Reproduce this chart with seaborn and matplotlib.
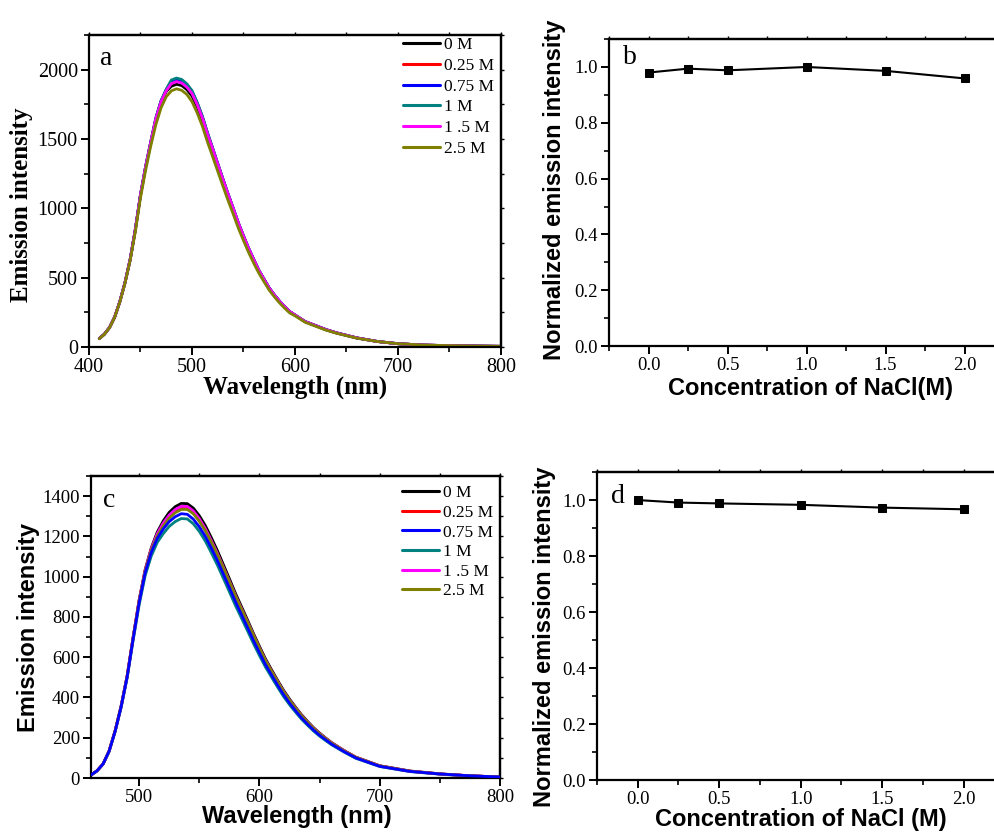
import numpy as np
import pandas as pd
import matplotlib
matplotlib.use("Agg")
from matplotlib import pyplot as plt
from matplotlib.ticker import MultipleLocator, FormatStrFormatter
import seaborn as sns

conc_labels = ["0 M", "0.25 M", "0.75 M", "1 M", "1 .5 M", "2.5 M"]
line_colors = ["#000000", "#ff0000", "#0000ff", "#008080", "#ff00ff", "#808000"]

# panel a spectra
wl_a = [410, 415, 420, 425, 430, 435, 440, 445, 450, 455, 460, 465, 470, 475, 480, 485, 490, 495,
        500, 505, 510, 515, 520, 525, 530, 535, 540, 545, 550, 555, 560, 565, 570, 575, 580, 585,
        590, 595, 600, 610, 620, 630, 640, 660, 680, 700, 725, 750, 775, 800]
a_0M = [61, 93, 141, 217, 328, 465, 631, 845, 1093, 1295, 1470, 1640, 1770, 1843, 1881, 1895, 1886, 1857,
        1810, 1735, 1640, 1525, 1418, 1310, 1200, 1094, 993, 889, 796, 708, 627, 550, 486, 424, 374, 329,
        290, 254, 230, 182, 154, 125, 102, 65, 40, 24, 14, 10, 7, 5]
a_025M = [61, 93, 141, 217, 328, 465, 631, 847, 1097, 1301, 1479, 1650, 1772, 1852, 1911, 1925, 1915, 1885,
          1838, 1757, 1660, 1542, 1432, 1321, 1211, 1103, 1001, 895, 801, 711, 630, 552, 488, 425, 375, 330,
          291, 255, 231, 183, 155, 126, 103, 66, 40, 24, 14, 10, 7, 5]
a_075M = [61, 93, 141, 217, 328, 465, 631, 847, 1097, 1301, 1479, 1652, 1775, 1855, 1919, 1933, 1923, 1892,
          1844, 1762, 1664, 1545, 1435, 1323, 1213, 1105, 1002, 896, 802, 712, 631, 553, 489, 426, 376, 331,
          291, 255, 231, 183, 155, 126, 103, 66, 40, 24, 14, 10, 7, 5]
a_1M = [61, 93, 141, 217, 328, 465, 631, 847, 1097, 1301, 1479, 1653, 1777, 1859, 1926, 1940, 1930, 1899,
        1850, 1766, 1667, 1547, 1437, 1325, 1214, 1106, 1003, 897, 803, 713, 631, 553, 489, 426, 376, 331,
        291, 255, 231, 183, 155, 126, 103, 66, 40, 24, 14, 10, 7, 5]
a_15M = [61, 93, 141, 217, 328, 465, 631, 846, 1095, 1299, 1476, 1648, 1769, 1848, 1900, 1914, 1904, 1875,
         1829, 1750, 1654, 1538, 1430, 1320, 1210, 1103, 1001, 895, 801, 712, 630, 552, 488, 425, 375, 330,
         291, 255, 231, 183, 155, 126, 103, 66, 40, 24, 14, 10, 7, 5]
a_25M = [60, 92, 140, 215, 325, 460, 625, 830, 1075, 1275, 1450, 1605, 1725, 1805, 1848, 1862, 1852, 1822,
         1770, 1690, 1595, 1480, 1375, 1268, 1162, 1058, 960, 858, 768, 682, 604, 532, 470, 410, 362, 318,
         280, 245, 225, 178, 150, 122, 100, 64, 40, 24, 14, 10, 7, 5]

# panel c spectra
wl_c = [460, 465, 470, 475, 480, 485, 490, 495, 500, 505, 510, 515, 520, 525, 530, 535, 540, 545, 550,
        555, 560, 565, 570, 575, 580, 585, 590, 595, 600, 605, 610, 615, 620, 625, 630, 635, 640, 645,
        650, 655, 660, 670, 680, 700, 725, 750, 775, 800]
c_0M = [15, 36, 70, 134, 234, 357, 507, 700, 885, 1036, 1142, 1221, 1277, 1320, 1348, 1364, 1363, 1341, 1303,
        1254, 1194, 1130, 1060, 990, 918, 852, 786, 718, 654, 592, 538, 486, 436, 392, 352, 314, 281, 250,
        223, 199, 176, 138, 104, 61, 35, 21, 11, 5]
c_025M = [15, 36, 70, 134, 234, 356, 505, 697, 880, 1030, 1133, 1206, 1257, 1297, 1324, 1340, 1339, 1317, 1279,
          1231, 1172, 1110, 1042, 973, 903, 838, 773, 706, 643, 582, 529, 478, 428, 385, 346, 308, 276, 246,
          219, 196, 173, 136, 103, 60, 34, 20, 11, 5]
c_075M = [15, 36, 70, 133, 232, 354, 502, 692, 872, 1020, 1120, 1190, 1237, 1274, 1298, 1313, 1310, 1286, 1248,
          1200, 1142, 1080, 1013, 945, 876, 812, 748, 683, 622, 563, 512, 462, 414, 372, 334, 298, 267, 238,
          212, 190, 168, 132, 100, 58, 33, 20, 11, 5]
c_1M = [15, 35, 69, 131, 229, 350, 496, 684, 860, 1005, 1102, 1170, 1214, 1250, 1274, 1289, 1287, 1263, 1225,
        1177, 1119, 1058, 992, 925, 857, 795, 732, 668, 608, 551, 501, 452, 405, 364, 327, 292, 262, 233,
        208, 186, 165, 130, 98, 57, 32, 19, 10, 5]
c_15M = [15, 36, 70, 134, 234, 356, 506, 698, 882, 1032, 1137, 1213, 1266, 1306, 1334, 1350, 1349, 1327, 1288,
         1239, 1179, 1116, 1047, 978, 907, 842, 777, 710, 646, 585, 531, 480, 430, 387, 348, 310, 277, 247,
         220, 197, 174, 137, 103, 60, 34, 20, 11, 5]
c_25M = [15, 36, 70, 134, 234, 356, 505, 696, 879, 1028, 1130, 1202, 1252, 1291, 1318, 1334, 1334, 1313, 1276,
         1229, 1171, 1110, 1043, 975, 905, 840, 775, 709, 645, 584, 530, 479, 429, 386, 347, 309, 276, 246,
         219, 196, 173, 136, 103, 60, 34, 20, 11, 5]

# panels b and d
nacl = [0.0, 0.25, 0.5, 1.0, 1.5, 2.0]
norm_b = [0.980, 0.994, 0.988, 1.000, 0.986, 0.959]
norm_d = [1.000, 0.991, 0.988, 0.983, 0.973, 0.967]


def long_form(wl, series):
    frames = []
    for lab, vals in zip(conc_labels, series):
        frames.append(pd.DataFrame({"wl": wl, "I": vals, "conc": lab}))
    return pd.concat(frames, ignore_index=True)


sns.set_style("ticks")
plt.rcParams["font.family"] = ["Liberation Serif", "DejaVu Serif"]
plt.rcParams["axes.linewidth"] = 1.6
for key in ["text.color", "axes.labelcolor", "axes.edgecolor", "xtick.color", "ytick.color"]:
    plt.rcParams[key] = "black"

fig = plt.figure(figsize=(9.95, 8.33), dpi=100)
ax_a = fig.add_axes([0.0894, 0.5834, 0.4141, 0.3745])
ax_b = fig.add_axes([0.6121, 0.5846, 0.3970, 0.3685])
ax_c = fig.add_axes([0.0915, 0.0660, 0.4111, 0.3625])
ax_d = fig.add_axes([0.6000, 0.0636, 0.4095, 0.3697])

palette = dict(zip(conc_labels, line_colors))
serif_bold = dict(family="Liberation Serif", weight="bold", size=18)
sans_bold = dict(family="Liberation Sans", weight="bold", size=17)


def style_ticks(ax, size, xmaj, xmin, ymaj, ymin):
    ax.xaxis.set_major_locator(MultipleLocator(xmaj))
    ax.xaxis.set_minor_locator(MultipleLocator(xmin))
    ax.yaxis.set_major_locator(MultipleLocator(ymaj))
    ax.yaxis.set_minor_locator(MultipleLocator(ymin))
    ax.tick_params(which="major", direction="out", length=6, width=1.4, labelsize=size, pad=2,
                   labelfontfamily="Liberation Serif")
    ax.tick_params(which="minor", direction="out", length=3.5, width=1.2)
    # small mirrored ticks on top and right
    top = ax.secondary_xaxis("top")
    top.xaxis.set_major_locator(MultipleLocator(xmaj))
    top.xaxis.set_minor_locator(MultipleLocator(xmin))
    top.tick_params(which="both", direction="out", length=2.5, width=1.0, labeltop=False)
    top.spines["top"].set_linewidth(1.6)
    right = ax.secondary_yaxis("right")
    right.yaxis.set_major_locator(MultipleLocator(ymaj))
    right.yaxis.set_minor_locator(MultipleLocator(ymin))
    right.tick_params(which="both", direction="out", length=2.5, width=1.0, labelright=False)
    right.spines["right"].set_linewidth(1.6)


def place_labels(ax, xl, yl, fontd, xpos, ypos):
    ax.set_xlabel(xl, fontdict=fontd)
    ax.set_ylabel(yl, fontdict=fontd)
    ax.xaxis.label.set_verticalalignment("center")
    ax.yaxis.label.set_verticalalignment("center")
    ax.xaxis.set_label_coords(*xpos)
    ax.yaxis.set_label_coords(*ypos)


def spectra_legend(ax, spacing, top):
    h, l = ax.get_legend_handles_labels()
    leg = ax.legend(h, l, loc="upper right", bbox_to_anchor=(1.0, top), frameon=False,
                    fontsize=12.5, handlelength=2.1, handletextpad=0.25, labelspacing=spacing,
                    borderaxespad=0.1, borderpad=0.3)
    for line in leg.get_lines():
        line.set_linewidth(2.2)


# panel a
df_a = long_form(wl_a, [a_0M, a_025M, a_075M, a_1M, a_15M, a_25M])
sns.lineplot(data=df_a, x="wl", y="I", hue="conc", palette=palette, hue_order=conc_labels,
             linewidth=2.0, ax=ax_a, sort=True)
ax_a.set_xlim(400, 800)
ax_a.set_ylim(0, 2250)
style_ticks(ax_a, 14.5, 100, 50, 500, 250)
place_labels(ax_a, "Wavelength (nm)", "Emission intensity", serif_bold, (0.5, -0.128), (-0.163, 0.455))
spectra_legend(ax_a, 0.26, 1.015)
ax_a.text(0.027, 0.925, "a", transform=ax_a.transAxes, fontsize=20, va="center", ha="left")

# panel b
sns.lineplot(x=nacl, y=norm_b, color="black", marker="s", markersize=6, markeredgecolor="black",
             linewidth=1.5, ax=ax_b)
ax_b.set_xlim(-0.25, 2.25)
ax_b.set_ylim(0, 1.1)
style_ticks(ax_b, 13.5, 0.5, 0.25, 0.2, 0.1)
ax_b.xaxis.set_major_formatter(FormatStrFormatter("%.1f"))
ax_b.yaxis.set_major_formatter(FormatStrFormatter("%.1f"))
place_labels(ax_b, "Concentration of NaCl(M)", "Normalized emission intensity", sans_bold,
             (0.511, -0.137), (-0.137, 0.508))
ax_b.text(0.035, 0.94, "b", transform=ax_b.transAxes, fontsize=20, va="center", ha="left")

# panel c
df_c = long_form(wl_c, [c_0M, c_025M, c_075M, c_1M, c_15M, c_25M])
sns.lineplot(data=df_c, x="wl", y="I", hue="conc", palette=palette, hue_order=conc_labels,
             linewidth=2.0, ax=ax_c, sort=True)
ax_c.lines[2].set_zorder(3)
ax_c.set_xlim(460, 800)
ax_c.set_ylim(0, 1500)
style_ticks(ax_c, 13.5, 100, 50, 200, 100)
place_labels(ax_c, "Wavelength (nm)", "Emission intensity", sans_bold, (0.503, -0.129), (-0.154, 0.497))
spectra_legend(ax_c, 0.2, 0.993)
ax_c.text(0.03, 0.92, "c", transform=ax_c.transAxes, fontsize=20, va="center", ha="left")

# panel d
sns.lineplot(x=nacl, y=norm_d, color="black", marker="s", markersize=6, markeredgecolor="black",
             linewidth=1.5, ax=ax_d)
ax_d.set_xlim(-0.25, 2.25)
ax_d.set_ylim(0, 1.1)
style_ticks(ax_d, 13.5, 0.5, 0.25, 0.2, 0.1)
ax_d.xaxis.set_major_formatter(FormatStrFormatter("%.1f"))
ax_d.yaxis.set_major_formatter(FormatStrFormatter("%.1f"))
place_labels(ax_d, "Concentration of NaCl (M)", "Normalized emission intensity", sans_bold,
             (0.50, -0.128), (-0.128, 0.464))
ax_d.text(0.035, 0.92, "d", transform=ax_d.transAxes, fontsize=20, va="center", ha="left")

fig.savefig("out.png", dpi=100)
